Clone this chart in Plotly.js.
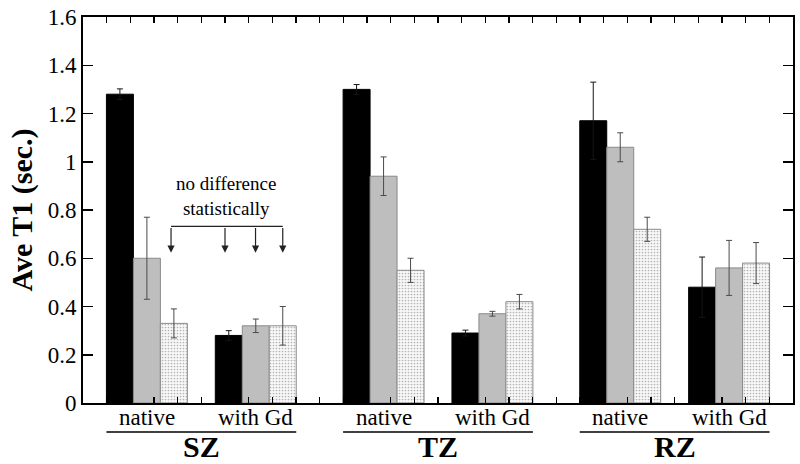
<!DOCTYPE html>
<html>
<head>
<meta charset="utf-8">
<script src="https://cdn.plot.ly/plotly-3.0.1.min.js"></script>
<style>html,body{margin:0;padding:0;background:#fff;}#chart{width:800px;height:464px;}</style>
</head>
<body>
<div id="chart"></div>
<script>
// ---- data ----
const groupLabels = ['native', 'with Gd', 'native', 'with Gd', 'native', 'with Gd'];
const zoneLabels = ['SZ', 'TZ', 'RZ'];
const groupPos = [2.7, 7.3, 12.7, 17.3, 22.7, 27.3];
const blackVals = [1.28, 0.28, 1.30, 0.29, 1.17, 0.48];
const blackErr  = [0.022, 0.02, 0.02, 0.012, 0.16, 0.125];
const grayVals  = [0.60, 0.32, 0.94, 0.37, 1.06, 0.56];
const grayErr   = [0.17, 0.028, 0.08, 0.01, 0.06, 0.114];
const dotVals   = [0.33, 0.32, 0.55, 0.42, 0.72, 0.58];
const dotErr    = [0.06, 0.08, 0.05, 0.03, 0.05, 0.085];
const yTickVals = [0, 0.2, 0.4, 0.6, 0.8, 1.0, 1.2, 1.4, 1.6];
const yTickText = ['0', '0.2', '0.4', '0.6', '0.8', '1', '1.2', '1.4', '1.6'];
const noteText = 'no difference<br>statistically';
const noteArrowX = [3.72, 6.0, 7.29, 8.44];

// ---- styling ----
const BW = 1.14;
const serif = '"Liberation Serif", "Times New Roman", serif';
const errStyle = (arr, col) => ({type: 'data', array: arr, symmetric: true, visible: true, color: col, thickness: 1, width: 3});

const traces = [
  {type: 'bar', x: groupPos, y: blackVals, width: BW, offset: -1.5 * BW,
   marker: {color: '#000000', line: {color: '#000000', width: 1}},
   error_y: errStyle(blackErr, '#161616'), hoverinfo: 'y', showlegend: false},
  {type: 'bar', x: groupPos, y: grayVals, width: BW, offset: -0.5 * BW,
   marker: {color: '#bebebe', line: {color: '#8a8a8a', width: 1}},
   error_y: errStyle(grayErr, '#4a4a4a'), hoverinfo: 'y', showlegend: false},
  {type: 'bar', x: groupPos, y: dotVals, width: BW, offset: 0.5 * BW,
   marker: {color: '#f3f3f3', line: {color: '#8a8a8a', width: 1},
            pattern: {shape: '.', fgcolor: '#b4b4b4', bgcolor: '#f8f8f8', size: 3, solidity: 0.25}},
   error_y: errStyle(dotErr, '#4a4a4a'), hoverinfo: 'y', showlegend: false}
];

const annotations = [];
const shapes = [];
groupLabels.forEach((g, i) => {
  annotations.push({text: g, x: groupPos[i], y: -0.037, xref: 'x', yref: 'paper',
    showarrow: false, xanchor: 'center', yanchor: 'middle', font: {family: serif, size: 23, color: '#000'}});
});
zoneLabels.forEach((z, k) => {
  const x0 = groupPos[2 * k] - 1.5 * BW, x1 = groupPos[2 * k + 1] + 1.5 * BW;
  annotations.push({text: '<b>' + z + '</b>', x: (groupPos[2 * k] + groupPos[2 * k + 1]) / 2, y: -0.112,
    xref: 'x', yref: 'paper', showarrow: false, xanchor: 'center', yanchor: 'middle',
    font: {family: serif, size: 30, color: '#000'}});
  shapes.push({type: 'line', xref: 'x', yref: 'paper', x0: x0, x1: x1, y0: -0.075, y1: -0.075,
    line: {color: '#000', width: 1.5}});
});
// statistical note
annotations.push({text: noteText, x: 6.06, y: 0.86, xref: 'x', yref: 'y', showarrow: false,
  xanchor: 'center', yanchor: 'middle', font: {family: serif, size: 19, color: '#000'}});
const bracketY = 0.732, tipY = 0.623;
shapes.push({type: 'line', xref: 'x', yref: 'y', x0: noteArrowX[0], x1: noteArrowX[noteArrowX.length - 1],
  y0: bracketY, y1: bracketY, line: {color: '#222', width: 1.2}});
noteArrowX.forEach(xa => {
  annotations.push({text: '', x: xa, y: tipY, ax: xa, ay: bracketY, xref: 'x', yref: 'y', axref: 'x', ayref: 'y',
    showarrow: true, arrowhead: 2, arrowsize: 1.2, arrowwidth: 1.2, arrowcolor: '#222'});
});

const layout = {
  width: 800, height: 464,
  margin: {l: 83, r: 7, t: 17, b: 61},
  paper_bgcolor: '#ffffff', plot_bgcolor: '#ffffff',
  barmode: 'overlay',
  font: {family: serif, color: '#000'},
  xaxis: {range: [0, 30], dtick: 1, tick0: 0, ticks: 'inside', ticklen: 6, tickwidth: 1.5, tickcolor: '#000',
    showticklabels: false, showgrid: false, zeroline: false, showline: true, linecolor: '#000', linewidth: 2,
    mirror: 'ticks', fixedrange: true},
  yaxis: {range: [0, 1.6], tickvals: yTickVals, ticktext: yTickText, ticks: 'inside', ticklen: 10, tickwidth: 1.5,
    tickcolor: '#000', showgrid: false, zeroline: false, showline: true, linecolor: '#000', linewidth: 2,
    mirror: 'ticks', tickfont: {family: serif, size: 23, color: '#000'}, ticklabelstandoff: 0,
    title: {text: '<b>Ave T1 (sec.)</b>', font: {family: serif, size: 30, color: '#000'}, standoff: 6},
    automargin: false, fixedrange: true},
  annotations: annotations,
  shapes: shapes
};

Plotly.newPlot('chart', traces, layout, {displayModeBar: false, staticPlot: true});
</script>
</body>
</html>
